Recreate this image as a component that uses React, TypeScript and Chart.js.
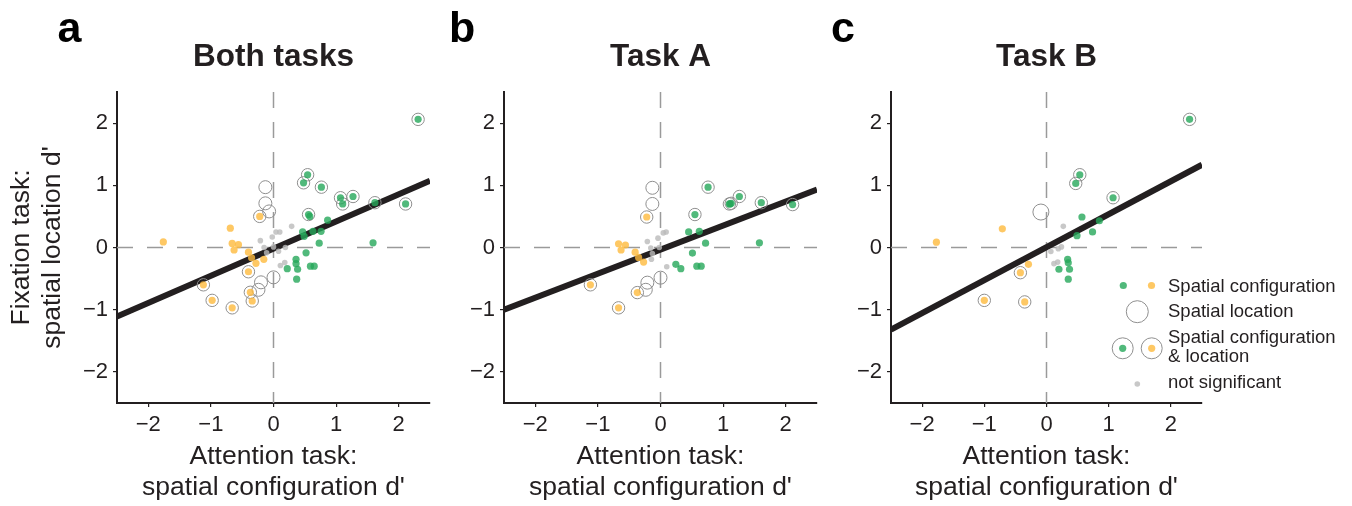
import React, { useEffect, useRef } from 'react';
import { Chart, registerables } from 'chart.js';

Chart.register(...registerables);

const FONT = "'Liberation Sans', Arial, Helvetica, sans-serif";
const INK = '#231f20';
const GREEN = 'rgba(38,168,90,0.8)';
const ORANGE = 'rgba(254,186,61,0.8)';
const GREY = 'rgba(186,186,186,0.8)';
const RING = '#8f8f8f';

// ---- axis ticks ----
const axisMin = -2.5;
const axisMax = 2.5;
const xTickValues = [-2, -1, 0, 1, 2];
const xTickLabels = ['−2', '−1', '0', '1', '2'];
const yTickValues = [-2, -1, 0, 1, 2];
const yTickLabels = ['−2', '−1', '0', '1', '2'];

const titles = ['Both tasks', 'Task A', 'Task B'];
const panelLetters = ['a', 'b', 'c'];
const xTitle = ['Attention task:', "spatial configuration d'"];
const yTitle = ['Fixation task:', "spatial location d'"];

// ---- panel a: both tasks ----
const aGreenBoth = [[2.31, 2.06], [0.545, 1.17], [0.48, 1.04], [0.765, 0.97], [1.07, 0.8], [1.27, 0.82], [1.105, 0.7], [1.62, 0.72], [2.11, 0.7], [0.56, 0.53]];
const aGreenOnly = [[0.58, 0.5], [0.865, 0.44], [0.465, 0.25], [0.63, 0.26], [0.76, 0.26], [0.49, 0.18], [0.73, 0.07], [1.59, 0.075], [0.52, -0.085], [0.36, -0.19], [0.36, -0.26], [0.22, -0.34], [0.385, -0.35], [0.59, -0.3], [0.65, -0.3], [0.37, -0.51]];
const aOrangeBoth = [[-0.22, 0.5], [-0.4, -0.39], [-1.12, -0.6], [-0.98, -0.85], [-0.66, -0.97], [-0.37, -0.72], [-0.34, -0.86]];
const aOrangeOnly = [[-1.76, 0.09], [-0.69, 0.31], [-0.66, 0.065], [-0.56, 0.045], [-0.63, -0.04], [-0.4, -0.075], [-0.35, -0.165], [-0.28, -0.255], [-0.155, -0.19]];
const aLocOnly = [[-0.13, 0.97], [-0.13, 0.71], [-0.07, 0.58], [0.0, -0.48], [-0.2, -0.56], [-0.24, -0.68]];
const aNotSig = [[0.29, 0.34], [0.1, 0.25], [0.04, 0.25], [-0.02, 0.17], [-0.21, 0.11], [-0.15, 0.0], [-0.11, -0.085], [0.0, 0.01], [0.08, -0.06], [0.19, 0.0], [0.11, -0.29], [0.18, -0.24]];
const aFit = { slope: 0.437, intercept: -0.018 };

// ---- panel b: task A ----
const bGreenBoth = [[0.76, 0.97], [0.55, 0.53], [1.1, 0.7], [1.13, 0.71], [1.26, 0.82], [1.61, 0.72], [2.11, 0.69]];
const bGreenOnly = [[0.45, 0.25], [0.62, 0.26], [0.72, 0.07], [1.58, 0.075], [0.51, -0.09], [0.245, -0.27], [0.325, -0.34], [0.58, -0.3], [0.65, -0.3], [1.11, 0.7]];
const bOrangeBoth = [[-0.22, 0.49], [-1.12, -0.6], [-0.67, -0.97], [-0.37, -0.725]];
const bOrangeOnly = [[-0.67, 0.06], [-0.56, 0.04], [-0.63, -0.04], [-0.405, -0.075], [-0.35, -0.16], [-0.27, -0.235]];
const bLocOnly = [[-0.13, 0.96], [-0.13, 0.7], [0.0, -0.485], [-0.21, -0.565], [-0.235, -0.68]];
const bNotSig = [[0.09, 0.25], [0.045, 0.235], [-0.04, 0.15], [-0.21, 0.096], [-0.155, -0.01], [-0.02, 0.0], [-0.13, -0.096], [-0.145, -0.19], [0.1, -0.31]];
const bFit = { slope: 0.386, intercept: -0.035 };

// ---- panel c: task B ----
const cGreenBoth = [[2.3, 2.06], [0.535, 1.17], [0.47, 1.03], [1.07, 0.8]];
const cGreenOnly = [[0.57, 0.49], [0.85, 0.43], [0.49, 0.19], [0.74, 0.25], [0.34, -0.19], [0.35, -0.245], [0.37, -0.35], [0.2, -0.35], [0.35, -0.51]];
const cOrangeBoth = [[-0.42, -0.405], [-1.0, -0.85], [-0.35, -0.875]];
const cOrangeOnly = [[-1.77, 0.085], [-0.71, 0.3], [-0.29, -0.27]];
const cLocOnly = [[-0.09, 0.57]];
const cNotSig = [[0.27, 0.34], [0.07, -0.064], [0.19, -0.02], [0.24, 0.01], [0.12, -0.26], [0.18, -0.235]];
const cFit = { slope: 0.53, intercept: 0.005 };

const legendLabels = ['Spatial configuration', 'Spatial location', 'Spatial configuration', '& location', 'not significant'];

type P = number[][];
const pts = (arr: P) => arr.map(([x, y]) => ({ x, y }));

interface PanelData {
  greenBoth: P; greenOnly: P; orangeBoth: P; orangeOnly: P; locOnly: P; notSig: P;
  fit: { slope: number; intercept: number };
}

interface Layout {
  left: number; width: number; yWidth: number; padRight: number;
  letterX: number; locRadius: number; showYTitle: boolean; legend: boolean;
}

const panelsData: PanelData[] = [
  { greenBoth: aGreenBoth, greenOnly: aGreenOnly, orangeBoth: aOrangeBoth, orangeOnly: aOrangeOnly, locOnly: aLocOnly, notSig: aNotSig, fit: aFit },
  { greenBoth: bGreenBoth, greenOnly: bGreenOnly, orangeBoth: bOrangeBoth, orangeOnly: bOrangeOnly, locOnly: bLocOnly, notSig: bNotSig, fit: bFit },
  { greenBoth: cGreenBoth, greenOnly: cGreenOnly, orangeBoth: cOrangeBoth, orangeOnly: cOrangeOnly, locOnly: cLocOnly, notSig: cNotSig, fit: cFit },
];

const layouts: Layout[] = [
  { left: 0, width: 438, yWidth: 117, padRight: 8, letterX: 57.5, locRadius: 6.5, showYTitle: true, legend: false },
  { left: 440, width: 392, yWidth: 64, padRight: 15, letterX: 9, locRadius: 6.5, showYTitle: false, legend: false },
  { left: 825, width: 527, yWidth: 66, padRight: 150, letterX: 6, locRadius: 8, showYTitle: false, legend: true },
];

const HEIGHT = 506;

function Panel({ idx }: { idx: number }) {
  const ref = useRef<HTMLCanvasElement | null>(null);
  const d = panelsData[idx];
  const L = layouts[idx];

  useEffect(() => {
    if (!ref.current) return;
    const fitPts = [axisMin, axisMax].map((x) => ({ x, y: d.fit.intercept + d.fit.slope * x }));

    const letterPlugin = {
      id: 'panelLetter',
      afterDraw(chart: any) {
        const ctx = chart.ctx;
        ctx.save();
        ctx.fillStyle = '#000';
        ctx.font = `bold 43px ${FONT}`;
        ctx.textAlign = 'left';
        ctx.textBaseline = 'alphabetic';
        ctx.fillText(panelLetters[idx], L.letterX, 41.7);
        ctx.restore();
      },
    };

    const legendPlugin = {
      id: 'customLegend',
      afterDraw(chart: any) {
        if (!L.legend) return;
        const ctx = chart.ctx;
        const ox = L.left;
        const circle = (x: number, y: number, r: number, fill: string | null, stroke: string | null) => {
          ctx.beginPath();
          ctx.arc(x - ox, y, r, 0, Math.PI * 2);
          if (fill) { ctx.fillStyle = fill; ctx.fill(); }
          if (stroke) { ctx.strokeStyle = stroke; ctx.lineWidth = 1; ctx.stroke(); }
        };
        ctx.save();
        circle(1123.3, 285.5, 3.6, GREEN, null);
        circle(1151.5, 285.5, 3.6, ORANGE, null);
        circle(1137.3, 311.7, 11, null, RING);
        circle(1122.7, 348.3, 10.5, null, RING);
        circle(1151.7, 348.3, 10.5, null, RING);
        circle(1122.7, 348.3, 3.6, GREEN, null);
        circle(1151.7, 348.3, 3.6, ORANGE, null);
        circle(1137.3, 384, 2.8, GREY, null);
        ctx.fillStyle = INK;
        ctx.font = `18.5px ${FONT}`;
        ctx.textAlign = 'left';
        ctx.textBaseline = 'alphabetic';
        const tx = 1168 - ox;
        ctx.fillText(legendLabels[0], tx, 292.3);
        ctx.fillText(legendLabels[1], tx, 317.3);
        ctx.fillText(legendLabels[2], tx, 343.3);
        ctx.fillText(legendLabels[3], tx, 361.7);
        ctx.fillText(legendLabels[4], tx, 388.3);
        ctx.restore();
      },
    };

    const chart = new Chart(ref.current, {
      type: 'scatter',
      data: {
        datasets: [
          { label: 'green', data: pts([...d.greenOnly, ...d.greenBoth]), pointRadius: 3.6, pointBackgroundColor: GREEN, pointBorderWidth: 0, order: 1 },
          { label: 'orange', data: pts([...d.orangeOnly, ...d.orangeBoth]), pointRadius: 3.6, pointBackgroundColor: ORANGE, pointBorderWidth: 0, order: 2 },
          { label: 'ns', data: pts(d.notSig), pointRadius: 2.8, pointBackgroundColor: GREY, pointBorderWidth: 0, order: 3 },
          { label: 'bothRing', data: pts([...d.greenBoth, ...d.orangeBoth]), pointRadius: 6.2, pointBackgroundColor: 'rgba(255,255,255,0)', pointBorderColor: RING, pointBorderWidth: 1, order: 4 },
          { label: 'locRing', data: pts(d.locOnly), pointRadius: L.locRadius, pointBackgroundColor: 'rgba(255,255,255,0)', pointBorderColor: RING, pointBorderWidth: 1, order: 5 },
          { label: 'fit', data: fitPts, showLine: true, borderColor: INK, borderWidth: 6, pointRadius: 0, order: 6 },
          { label: 'h0', data: [{ x: axisMin, y: 0 }, { x: axisMax, y: 0 }], showLine: true, borderColor: '#9a9a9a', borderWidth: 1.5, borderDash: [16, 14], pointRadius: 0, order: 7 },
          { label: 'v0', data: [{ x: 0, y: axisMax }, { x: 0, y: axisMin }], showLine: true, borderColor: '#9a9a9a', borderWidth: 1.5, borderDash: [16, 14], pointRadius: 0, order: 8 },
        ] as any,
      },
      options: {
        animation: false,
        responsive: false,
        devicePixelRatio: 1,
        events: [],
        layout: { padding: { left: 0, right: L.padRight, top: 0, bottom: 0 } },
        plugins: {
          legend: { display: false },
          tooltip: { enabled: false },
          title: {
            display: true,
            text: titles[idx],
            fullSize: false,
            color: INK,
            font: { family: FONT, size: 31.5, weight: 'bold', lineHeight: 1.1 },
            padding: { top: 40, bottom: 17.35 },
          } as any,
        },
        scales: {
          x: {
            type: 'linear',
            min: axisMin,
            max: axisMax,
            afterBuildTicks: (s: any) => { s.ticks = xTickValues.map((v) => ({ value: v })); },
            afterFit: (s: any) => { s.height = 103; },
            ticks: {
              color: INK,
              font: { family: FONT, size: 22, lineHeight: 1.2 },
              padding: 5,
              maxRotation: 0,
              callback: (v: any) => xTickLabels[xTickValues.indexOf(Number(v))],
            },
            grid: { display: true, drawOnChartArea: false, drawTicks: true, tickLength: 4, color: INK, lineWidth: 1.2 },
            border: { display: true, color: INK, width: 2 },
            title: {
              display: true,
              text: xTitle,
              color: INK,
              font: { family: FONT, size: 26.5, lineHeight: 1.17 },
              padding: { top: 2, bottom: 2.5 },
            },
          },
          y: {
            type: 'linear',
            min: axisMin,
            max: axisMax,
            afterBuildTicks: (s: any) => { s.ticks = yTickValues.map((v) => ({ value: v })); },
            afterFit: (s: any) => { s.width = L.yWidth; },
            ticks: {
              color: INK,
              font: { family: FONT, size: 22, lineHeight: 1.2 },
              padding: 5,
              callback: (v: any) => yTickLabels[yTickValues.indexOf(Number(v))],
            },
            grid: { display: true, drawOnChartArea: false, drawTicks: true, tickLength: 4, color: INK, lineWidth: 1.2 },
            border: { display: true, color: INK, width: 2 },
            title: {
              display: L.showYTitle,
              text: yTitle,
              color: INK,
              font: { family: FONT, size: 26.5, lineHeight: 1.17 },
              padding: { top: 6.5, bottom: 2 },
            },
          },
        },
      } as any,
      plugins: [letterPlugin, legendPlugin],
    });
    return () => chart.destroy();
  }, [idx]);

  return (
    <canvas
      ref={ref}
      width={L.width}
      height={HEIGHT}
      style={{ position: 'absolute', left: L.left, top: 0, width: L.width, height: HEIGHT }}
    />
  );
}

export default function App() {
  return (
    <div style={{ position: 'absolute', left: 0, top: 0, width: 1352, height: HEIGHT, background: '#fff', overflow: 'hidden' }}>
      <Panel idx={0} />
      <Panel idx={1} />
      <Panel idx={2} />
    </div>
  );
}
